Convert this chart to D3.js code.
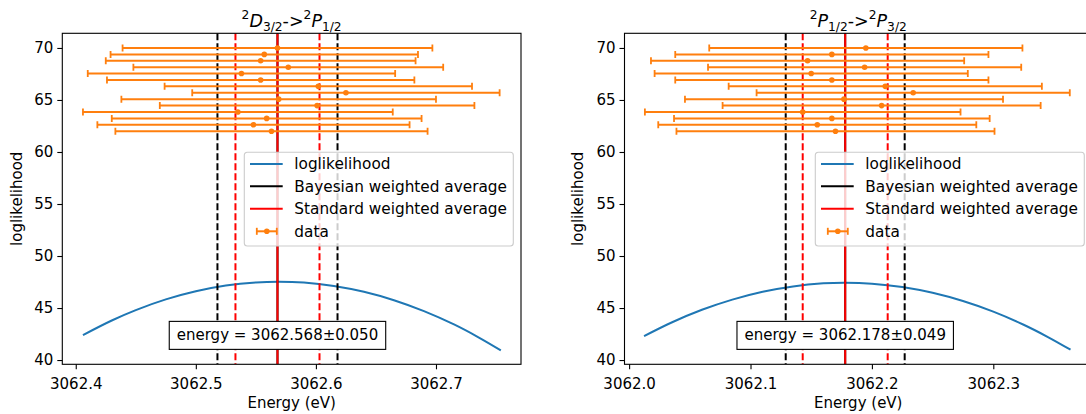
<!DOCTYPE html>
<html><head><meta charset="utf-8">
<script src="https://cdn.jsdelivr.net/npm/d3@7"></script>
<style>
body{margin:0;background:#fff}
text{font-family:"DejaVu Sans",sans-serif;fill:#000}
</style>
</head><body>
<svg id="chart" width="1086" height="414"></svg>
<script>
// ---------------- data ----------------
const yLevels = [70.0, 69.38, 68.77, 68.15, 67.54, 66.92, 66.31, 65.69, 65.08, 64.46, 63.85, 63.23, 62.62, 62.0];

const leftEnergies = [3062.568, 3062.557, 3062.554, 3062.577, 3062.538, 3062.554, 3062.602, 3062.625, 3062.569, 3062.601, 3062.535, 3062.559, 3062.548, 3062.563];
const leftErrors   = [0.129, 0.128, 0.129, 0.129, 0.128, 0.128, 0.128, 0.128, 0.131, 0.131, 0.129, 0.129, 0.130, 0.130];
const leftCurveX   = [3062.406, 3062.43, 3062.45, 3062.475, 3062.50, 3062.525, 3062.55, 3062.569, 3062.59, 3062.615, 3062.64, 3062.665, 3062.69, 3062.715, 3062.735, 3062.754];
const leftCurveY   = [42.40, 43.80, 44.80, 45.83, 46.61, 47.16, 47.46, 47.53, 47.45, 47.12, 46.56, 45.75, 44.70, 43.42, 42.21, 40.93];
const leftStats    = {center: 3062.568, bayesErr: 0.050, stdErr: 0.035, label: "energy = 3062.568\u00b10.050"};

const rightEnergies = [3062.195, 3062.167, 3062.147, 3062.194, 3062.150, 3062.167, 3062.211, 3062.234, 3062.177, 3062.208, 3062.143, 3062.167, 3062.155, 3062.170];
const rightErrors   = [0.129, 0.129, 0.129, 0.129, 0.129, 0.129, 0.129, 0.129, 0.131, 0.131, 0.130, 0.130, 0.131, 0.131];
const rightCurveX   = [3062.0123, 3062.035, 3062.06, 3062.085, 3062.11, 3062.135, 3062.16, 3062.178, 3062.20, 3062.225, 3062.25, 3062.275, 3062.30, 3062.325, 3062.345, 3062.3636];
const rightCurveY   = [42.30, 43.61, 44.83, 45.81, 46.57, 47.08, 47.37, 47.43, 47.34, 47.02, 46.46, 45.67, 44.65, 43.39, 42.21, 40.99];
const rightStats    = {center: 3062.178, bayesErr: 0.049, stdErr: 0.035, label: "energy = 3062.178\u00b10.049"};

const yTicks = [40, 45, 50, 55, 60, 65, 70];
const leftXTicks  = [3062.4, 3062.5, 3062.6, 3062.7];
const rightXTicks = [3062.0, 3062.1, 3062.2, 3062.3];
const legendLabels = ["loglikelihood", "Bayesian weighted average", "Standard weighted average", "data"];
const leftTitle  = [["2","sup"],["D","it"],["3/2","sub"],["->",""],["2","sup"],["P","it"],["1/2","sub"]];
const rightTitle = [["2","sup"],["P","it"],["1/2","sub"],["->",""],["2","sup"],["P","it"],["3/2","sub"]];

// ---------------- layout ----------------
const FS = 15;
const LFS = 15.3;
const TOP = 33.3, BOTTOM = 364.3;
const yDomain = [39.59, 71.41];
const BLUE = "#1f77b4", ORANGE = "#ff7f0e", RED = "#ff0000";
const annotY = 42.37;

const svg = d3.select("#chart");
svg.append("rect").attr("width", 1086).attr("height", 414).attr("fill", "#fff");

function drawPanel(cfg, idx) {
  const x = d3.scaleLinear().domain(cfg.xDomain).range([cfg.left, cfg.right]);
  const y = d3.scaleLinear().domain(yDomain).range([BOTTOM, TOP]);
  const g = svg.append("g");
  const clipId = "clip" + idx;
  svg.append("clipPath").attr("id", clipId).append("rect")
    .attr("x", cfg.left).attr("y", TOP).attr("width", cfg.right - cfg.left).attr("height", BOTTOM - TOP);
  const plot = g.append("g").attr("clip-path", `url(#${clipId})`);

  // loglikelihood curve
  const pts = cfg.curveX.map((v, i) => [v, cfg.curveY[i]]);
  plot.append("path").datum(pts)
    .attr("d", d3.line().x(d => x(d[0])).y(d => y(d[1])).curve(d3.curveCatmullRom))
    .attr("fill", "none").attr("stroke", BLUE).attr("stroke-width", 2);

  // vertical lines
  const s = cfg.stats;
  const vl = [
    {v: s.center, c: "#000", dash: null},
    {v: s.center - s.bayesErr, c: "#000", dash: "7,3"},
    {v: s.center + s.bayesErr, c: "#000", dash: "7,3"},
    {v: s.center, c: RED, dash: null},
    {v: s.center - s.stdErr, c: RED, dash: "7,3"},
    {v: s.center + s.stdErr, c: RED, dash: "7,3"}
  ];
  plot.selectAll(".vl").data(vl).enter().append("line")
    .attr("x1", d => x(d.v)).attr("x2", d => x(d.v))
    .attr("y1", TOP).attr("y2", BOTTOM)
    .attr("stroke", d => d.c).attr("stroke-width", 2)
    .attr("stroke-dasharray", d => d.dash);

  // error bars
  const eb = cfg.energies.map((e, i) => ({e, err: cfg.errors[i], yv: yLevels[i]}));
  const ebg = plot.selectAll(".eb").data(eb).enter().append("g");
  ebg.append("line").attr("x1", d => x(d.e - d.err)).attr("x2", d => x(d.e + d.err))
    .attr("y1", d => y(d.yv)).attr("y2", d => y(d.yv)).attr("stroke", ORANGE).attr("stroke-width", 2);
  ebg.append("line").attr("x1", d => x(d.e - d.err)).attr("x2", d => x(d.e - d.err))
    .attr("y1", d => y(d.yv) - 3.5).attr("y2", d => y(d.yv) + 3.5).attr("stroke", ORANGE).attr("stroke-width", 1.8);
  ebg.append("line").attr("x1", d => x(d.e + d.err)).attr("x2", d => x(d.e + d.err))
    .attr("y1", d => y(d.yv) - 3.5).attr("y2", d => y(d.yv) + 3.5).attr("stroke", ORANGE).attr("stroke-width", 1.8);
  ebg.append("circle").attr("cx", d => x(d.e)).attr("cy", d => y(d.yv)).attr("r", 2.8).attr("fill", ORANGE);

  // frame
  g.append("rect").attr("x", cfg.left).attr("y", TOP).attr("width", cfg.right - cfg.left).attr("height", BOTTOM - TOP)
    .attr("fill", "none").attr("stroke", "#000").attr("stroke-width", 1.1);

  // axes
  const xa = g.append("g").attr("transform", `translate(0,${BOTTOM})`)
    .call(d3.axisBottom(x).tickValues(cfg.xTicks).tickFormat(d3.format(".1f")).tickSize(5).tickPadding(9));
  const ya = g.append("g").attr("transform", `translate(${cfg.left},0)`)
    .call(d3.axisLeft(y).tickValues(yTicks).tickFormat(d3.format("d")).tickSize(5).tickPadding(4));
  [xa, ya].forEach(a => {
    a.select(".domain").remove();
    a.selectAll("line").attr("stroke", "#000").attr("stroke-width", 1.1);
    a.selectAll("text").attr("font-size", FS).attr("font-family", "DejaVu Sans").attr("fill", "#000");
  });

  // axis labels
  g.append("text").attr("x", (cfg.left + Math.min(cfg.right, 1092)) / 2).attr("y", 407.5)
    .attr("text-anchor", "middle").attr("font-size", FS).text("Energy (eV)");
  g.append("text").attr("transform", `translate(${cfg.ylabelX},${(TOP + BOTTOM) / 2}) rotate(-90)`)
    .attr("text-anchor", "middle").attr("font-size", FS).text("loglikelihood");

  // title
  const t = g.append("text").attr("x", (cfg.left + cfg.right) / 2).attr("y", 27)
    .attr("text-anchor", "middle").attr("font-size", 17.5);
  let cur = 0;
  cfg.title.forEach(([txt, kind]) => {
    const target = kind === "sup" ? -8.5 : kind === "sub" ? 3.5 : 0;
    const ts = t.append("tspan").attr("dy", target - cur).text(txt);
    cur = target;
    if (kind === "sup" || kind === "sub") ts.attr("font-size", 12.25);
    if (kind === "it") ts.attr("font-style", "italic");
  });

  // annotation
  const ag = g.append("g");
  const cx = x(s.center), cy = y(annotY);
  const rect = ag.append("rect");
  const at = ag.append("text").attr("x", cx).attr("y", cy + 4.5).attr("text-anchor", "middle")
    .attr("font-size", FS).text(s.label);
  const tw = at.node().getComputedTextLength();
  rect.attr("x", cx - tw / 2 - 7.5).attr("y", cy - 14).attr("width", tw + 15).attr("height", 28)
    .attr("fill", "#fff").attr("stroke", "#000").attr("stroke-width", 1.1);

  // legend
  const lg = g.append("g").attr("transform", `translate(${cfg.legendX},152.3)`);
  lg.append("rect").attr("width", 269).attr("height", 93.7).attr("rx", 3)
    .attr("fill", "#fff").attr("fill-opacity", 0.8).attr("stroke", "#cccccc").attr("stroke-width", 1.1);
  const rows = [11.7, 34, 56.5, 79];
  const handleColors = [BLUE, "#000", RED];
  legendLabels.forEach((lab, i) => {
    const ry = rows[i];
    if (i < 3) {
      lg.append("line").attr("x1", 5.7).attr("x2", 38.4).attr("y1", ry).attr("y2", ry)
        .attr("stroke", handleColors[i]).attr("stroke-width", 2);
    } else {
      lg.append("line").attr("x1", 12.5).attr("x2", 32.5).attr("y1", ry).attr("y2", ry).attr("stroke", ORANGE).attr("stroke-width", 2);
      lg.append("line").attr("x1", 12.5).attr("x2", 12.5).attr("y1", ry - 3.5).attr("y2", ry + 3.5).attr("stroke", ORANGE).attr("stroke-width", 1.8);
      lg.append("line").attr("x1", 32.5).attr("x2", 32.5).attr("y1", ry - 3.5).attr("y2", ry + 3.5).attr("stroke", ORANGE).attr("stroke-width", 1.8);
      lg.append("circle").attr("cx", 22.5).attr("cy", ry).attr("r", 2.8).attr("fill", ORANGE);
    }
    lg.append("text").attr("x", 50).attr("y", ry + 5.3).attr("font-size", LFS).text(lab);
  });
}

drawPanel({xDomain: [3062.3888, 3062.7708], left: 62.3, right: 521, energies: leftEnergies, errors: leftErrors,
  curveX: leftCurveX, curveY: leftCurveY, stats: leftStats, xTicks: leftXTicks, title: leftTitle,
  ylabelX: 22.2, legendX: 244.3}, 0);
drawPanel({xDomain: [3061.9962, 3062.3813], left: 624.5, right: 1092, energies: rightEnergies, errors: rightErrors,
  curveX: rightCurveX, curveY: rightCurveY, stats: rightStats, xTicks: rightXTicks, title: rightTitle,
  ylabelX: 583, legendX: 815.3}, 1);
</script>
</body></html>
